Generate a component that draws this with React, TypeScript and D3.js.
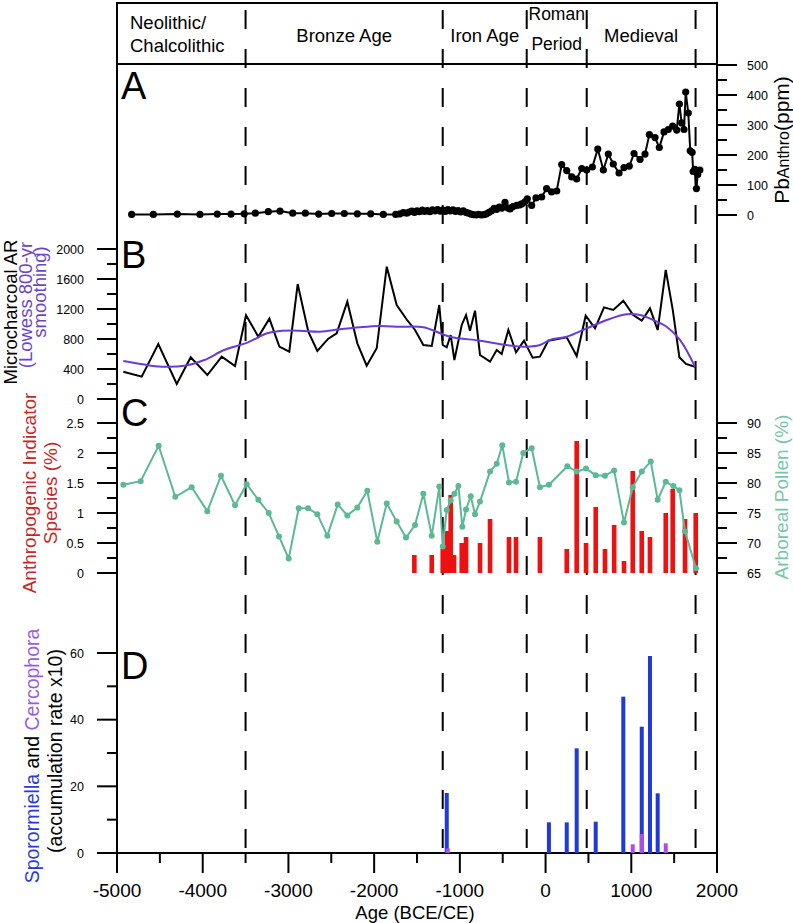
import React from "react";
import * as d3 from "d3";

// ---------- data ----------
const eraNames: string[][] = [["Neolithic/", "Chalcolithic"], ["Bronze Age"], ["Iron Age"], ["Roman", "Period"], ["Medieval"]];
const eraBounds = [-5000, -3500, -1200, -220, 480, 1750];

const pbYears = [-4829,-4576,-4296,-4032,-3830,-3670,-3516,-3386,-3235,-3098,-2950,-2803,-2647,-2495,-2348,-2196,-2040,-1893,-1748,
  -1700,-1660,-1620,-1590,-1560,-1530,-1500,-1470,-1440,-1410,-1380,-1350,-1320,-1290,-1260,-1230,-1200,-1170,-1140,-1110,-1080,-1050,-1020,-990,-960,-930,-900,
  -870,-840,-810,-780,-750,-720,-690,-660,-630,-600,-570,-540,-510,
  -473,-440,-415,-380,-337,-300,-278,-240,-213,-162,-112,-46,
  12,70,130,188,247,305,363,422,480,546,609,674,732,790,857,915,977,1032,1102,1160,1211,1277,1327,1382,1432,1483,1530,1561,1588,1615,1635,1665,1688,1710,1722,1740,1760,1775,1800];
const pbValues = [2,2,3,2,3,3,4,6,11,13,6,6,3,5,5,4,4,2,2,
  4,8,6,10,13,9,14,11,16,12,15,11,17,14,18,13,16,12,18,14,17,12,15,10,14,9,6,
  3,1,0,2,0,1,4,9,14,22,19,26,23,
  42,24,20,28,32,34,37,44,54,32,57,60,
  88,77,80,168,148,127,120,155,150,160,220,150,203,170,140,158,163,205,185,203,268,258,225,277,285,296,283,370,307,285,410,340,214,209,145,152,88,135,150];

const charYears = [-4926,-4712,-4518,-4303,-4140,-3946,-3778,-3623,-3495,-3351,-3222,-3106,-2990,-2892,-2768,-2663,-2535,-2437,-2313,-2196,-2087,-1970,-1853,-1737,-1620,-1523,-1426,-1328,-1240,-1200,-1153,-1107,-1064,-978,-928,-882,-823,-765,-648,-570,-512,-434,-345,-252,-151,-66,32,140,247,363,468,577,682,790,907,1023,1122,1218,1308,1402,1483,1561,1638,1743];
const charValues = [364,298,733,200,556,320,564,440,1116,831,1071,698,631,1533,898,640,804,876,1298,742,444,676,1764,1253,1060,920,720,707,1253,720,689,853,520,987,1120,911,1178,587,498,653,600,920,622,778,551,564,778,800,822,573,1111,942,1222,1187,1311,1120,1044,1209,920,1720,1196,556,467,431];

const lowessYears = [-4926,-4700,-4480,-4210,-3980,-3750,-3480,-3250,-3100,-2870,-2630,-2400,-2170,-1940,-1700,-1426,-1115,-765,-454,-220,-66,51,247,480,713,946,1102,1257,1412,1568,1743];
const lowessValues = [507,462,431,444,520,653,751,876,907,911,898,929,956,973,964,956,831,778,720,698,720,787,831,942,1053,1129,1120,1053,964,787,431];

const pollenYears = [-4926,-4724,-4514,-4320,-4129,-3946,-3787,-3623,-3487,-3351,-3230,-3110,-2997,-2880,-2772,-2663,-2546,-2425,-2313,-2196,-2080,-1963,-1853,-1737,-1628,-1523,-1426,-1328,-1240,-1200,-1153,-1107,-1064,-1017,-971,-928,-873,-823,-765,-648,-570,-505,-427,-345,-260,-162,-66,39,254,363,472,585,693,800,915,1017,1122,1227,1308,1402,1491,1561,1627,1755];
const pollenValues = [79.7,80.3,86.2,77.7,79.3,75.3,81.2,76.3,79.8,77.2,75.0,71.1,67.4,75.8,75.8,74.8,71.2,76.4,74.6,75.9,78.7,70.2,76.6,73.6,70.9,73.0,78.2,71.2,79.4,69.4,75.5,77.1,78.2,79.5,72.7,75.6,77.8,74.8,76.9,81.9,83.2,86.3,80.1,80.2,85.0,85.8,79.3,79.7,82.8,81.9,82.4,81.3,81.2,82.1,73.4,79.3,81.9,83.6,77.2,80.2,79.5,78.8,71.9,65.8];

const anthroYears = [-1531,-1328,-1200,-1153,-1107,-1068,-978,-928,-765,-648,-427,-345,-66,247,363,472,585,693,800,915,1017,1122,1218,1402,1483,1627,1752];
const anthroValues = [0.3,0.3,0.4,0.7,1.3,0.3,0.5,0.6,0.5,0.9,0.6,0.6,0.6,0.4,2.2,0.5,1.1,0.4,0.8,0.2,1.7,0.7,0.6,1.0,1.4,0.9,1.0];

const sporYears = [-1153,39,247,363,585,907,1122,1218,1308];
const sporValues = [18,9.2,9.2,31.4,9.4,46.9,37.9,59.1,17.9];
const cercYears = [-1141,1017,1122,1402];
const cercValues = [1.4,2.6,5.7,2.9];

const xTicks = [-5000,-4000,-3000,-2000,-1000,0,1000,2000];
const aTicks = [0,100,200,300,400,500];
const bTicks = [0,400,800,1200,1600,2000];
const cTicks = [0,0.5,1,1.5,2,2.5];
const c2Ticks = [65,70,75,80,85,90];
const dTicks = [0,20,40,60];

// ---------- component ----------
const FONT = "'Liberation Sans', Arial, Helvetica, sans-serif";

export default function App() {
  const L = 117, R = 717, TOP = 3, HB = 64, BOT = 853;
  const x = d3.scaleLinear().domain([-5000, 2000]).range([L, R]);
  const yA = d3.scaleLinear().domain([0, 500]).range([215, 65]);
  const yB = d3.scaleLinear().domain([0, 2000]).range([399, 249]);
  const yC = d3.scaleLinear().domain([0, 2.5]).range([573, 423]);
  const yC2 = d3.scaleLinear().domain([65, 90]).range([573, 423]);
  const yD = d3.scaleLinear().domain([0, 60]).range([853, 653]);

  const pb = pbYears.map((t, i) => [t, pbValues[i]] as [number, number]);
  const ch = charYears.map((t, i) => [t, charValues[i]] as [number, number]);
  const lw = lowessYears.map((t, i) => [t, lowessValues[i]] as [number, number]);
  const po = pollenYears.map((t, i) => [t, pollenValues[i]] as [number, number]);

  const pbLine = d3.line<[number, number]>().x(d => x(d[0])).y(d => yA(d[1]))(pb) || "";
  const chLine = d3.line<[number, number]>().x(d => x(d[0])).y(d => yB(d[1]))(ch) || "";
  const lwLine = d3.line<[number, number]>().x(d => x(d[0])).y(d => yB(d[1])).curve(d3.curveCatmullRom.alpha(0.5))(lw) || "";
  const poLine = d3.line<[number, number]>().x(d => x(d[0])).y(d => yC2(d[1]))(po) || "";

  const minor = (ticks: number[]) => {
    const out: number[] = [];
    for (let i = 0; i < ticks.length - 1; i++) out.push((ticks[i] + ticks[i + 1]) / 2);
    return out;
  };

  const leftAxis = (scale: d3.ScaleLinear<number, number>, ticks: number[], key: string) => (
    <g key={key}>
      {ticks.map(t => <line key={"M" + t} x1={L - 20} x2={L} y1={scale(t)} y2={scale(t)} stroke="#000" strokeWidth={2} />)}
      {minor(ticks).map(t => <line key={"m" + t} x1={L - 10} x2={L} y1={scale(t)} y2={scale(t)} stroke="#000" strokeWidth={2} />)}
      {ticks.map(t => <text key={"t" + t} x={L - 33} y={scale(t)} dy="0.36em" textAnchor="end" fontSize={12.5}>{String(t)}</text>)}
    </g>
  );
  const rightAxis = (scale: d3.ScaleLinear<number, number>, ticks: number[], key: string) => (
    <g key={key}>
      {ticks.map(t => <line key={"M" + t} x1={R} x2={R + 20} y1={scale(t)} y2={scale(t)} stroke="#000" strokeWidth={2} />)}
      {minor(ticks).map(t => <line key={"m" + t} x1={R} x2={R + 10} y1={scale(t)} y2={scale(t)} stroke="#000" strokeWidth={2} />)}
      {ticks.map(t => <text key={"t" + t} x={R + 30} y={scale(t)} dy="0.36em" textAnchor="start" fontSize={12.5}>{String(t)}</text>)}
    </g>
  );

  const eraLabelY = (lines: string[], i: number): number[] => {
    if (lines.length === 1) return [42];
    if (i === 3) return [20, 50];
    return [29, 52];
  };

  const rot = (xx: number, yy: number) => `translate(${xx},${yy}) rotate(-90)`;

  return (
    <svg width={793} height={923} style={{ position: "absolute", left: 0, top: 0, background: "#fff" }} fontFamily={FONT}>
      <rect x={0} y={0} width={793} height={923} fill="#fff" />

      {/* era dashed lines */}
      {eraBounds.slice(1).map(b => (
        <line key={"d" + b} x1={x(b)} x2={x(b)} y1={TOP} y2={BOT + 10} stroke="#000" strokeWidth={2} strokeDasharray="19 20" strokeDashoffset={32} />
      ))}

      {/* frame */}
      <line x1={L} x2={R} y1={TOP} y2={TOP} stroke="#000" strokeWidth={2} />
      <line x1={L} x2={R} y1={HB} y2={HB} stroke="#000" strokeWidth={2} />
      <line x1={L} x2={L} y1={TOP - 1} y2={BOT + 1} stroke="#000" strokeWidth={2} />
      <line x1={R} x2={R} y1={TOP - 1} y2={BOT + 1} stroke="#000" strokeWidth={2} />
      <line x1={L} x2={R} y1={BOT} y2={BOT} stroke="#000" strokeWidth={2} />

      {/* era labels */}
      {eraNames.map((lines, i) => {
        const cx = (x(eraBounds[i]) + x(eraBounds[i + 1])) / 2;
        const ys = eraLabelY(lines, i);
        const leftAligned = i === 0;
        return lines.map((s, j) => (
          <text key={"e" + i + j} x={leftAligned ? x(eraBounds[i]) + 13 : cx} y={ys[j]}
            textAnchor={leftAligned ? "start" : "middle"} fontSize={i === 3 ? 17.5 : 18.5}>{s}</text>
        ));
      })}

      {/* panel letters */}
      <text x={121} y={99} fontSize={38}>A</text>
      <text x={121} y={268} fontSize={38}>B</text>
      <text x={121} y={426} fontSize={38}>C</text>
      <text x={121} y={679} fontSize={38}>D</text>

      {/* Panel A */}
      <path d={pbLine} fill="none" stroke="#000" strokeWidth={2} />
      {pb.map((d, i) => <circle key={"pb" + i} cx={x(d[0])} cy={yA(d[1])} r={3.6} fill="#000" />)}
      {rightAxis(yA, aTicks, "ra")}
      <text transform={rot(789, 140)} textAnchor="middle" fontSize={21}>
        <tspan>Pb</tspan><tspan fontSize={16}>Anthro</tspan><tspan>(ppm)</tspan>
      </text>

      {/* Panel B */}
      <path d={chLine} fill="none" stroke="#000" strokeWidth={2} />
      <path d={lwLine} fill="none" stroke="#6a3bd6" strokeWidth={2} />
      {leftAxis(yB, bTicks, "lb")}
      <text transform={rot(17, 312)} textAnchor="middle" fontSize={18.5}>Microcharcoal AR</text>
      <text transform={rot(32, 305)} textAnchor="middle" fontSize={18.5} fill="#6a45c8">(Lowess 800-yr</text>
      <text transform={rot(46, 292)} textAnchor="middle" fontSize={18.5} fill="#6a45c8">smoothing)</text>

      {/* Panel C */}
      {anthroYears.map((t, i) => (
        <rect key={"an" + i} x={x(t) - 2.3} y={yC(anthroValues[i])} width={4.6} height={yC(0) - yC(anthroValues[i])} fill="#ee1111" />
      ))}
      <path d={poLine} fill="none" stroke="#5db896" strokeWidth={2} />
      {po.map((d, i) => <circle key={"po" + i} cx={x(d[0])} cy={yC2(d[1])} r={3} fill="#5db896" />)}
      {leftAxis(yC, cTicks, "lc")}
      {rightAxis(yC2, c2Ticks, "rc")}
      <text transform={rot(36, 493)} textAnchor="middle" fontSize={19} fill="#c62828">Anthropogenic Indicator</text>
      <text transform={rot(57, 493)} textAnchor="middle" fontSize={19} fill="#c62828">Species (%)</text>
      <text transform={rot(788, 497)} textAnchor="middle" fontSize={19} fill="#78c6a8">Arboreal Pollen (%)</text>

      {/* Panel D */}
      {sporYears.map((t, i) => (
        <rect key={"sp" + i} x={x(t) - 2} y={yD(sporValues[i])} width={4} height={yD(0) - yD(sporValues[i])} fill="#1f3ad8" />
      ))}
      {cercYears.map((t, i) => (
        <rect key={"ce" + i} x={x(t) - 2} y={yD(cercValues[i])} width={4} height={yD(0) - yD(cercValues[i])} fill="#b44ae6" />
      ))}
      {leftAxis(yD, dTicks, "ld")}
      <text transform={rot(39, 756)} textAnchor="middle" fontSize={19.5}>
        <tspan fill="#2a3bd9">Sporormiella</tspan><tspan fill="#000"> and </tspan><tspan fill="#9b5ce0">Cercophora</tspan>
      </text>
      <text transform={rot(62, 751)} textAnchor="middle" fontSize={19.5}>(accumulation rate x10)</text>

      {/* x axis */}
      {xTicks.map(t => <line key={"xt" + t} x1={x(t)} x2={x(t)} y1={BOT} y2={BOT + 20} stroke="#000" strokeWidth={2} />)}
      {minor(xTicks).map(t => <line key={"xm" + t} x1={x(t)} x2={x(t)} y1={BOT} y2={BOT + 10} stroke="#000" strokeWidth={2} />)}
      {xTicks.map(t => <text key={"xl" + t} x={x(t)} y={897} textAnchor="middle" fontSize={19}>{String(t)}</text>)}
      <text x={(L + R) / 2 - 2} y={919} textAnchor="middle" fontSize={18.5}>Age (BCE/CE)</text>
    </svg>
  );
}
